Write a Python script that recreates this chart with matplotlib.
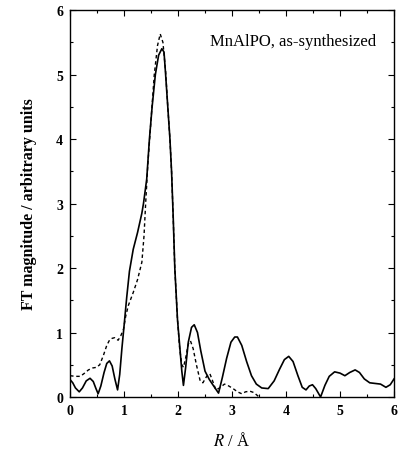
import matplotlib
matplotlib.use("Agg")
import matplotlib.pyplot as plt
from matplotlib.ticker import MultipleLocator

plt.rcParams['font.family'] = ['Liberation Serif', 'DejaVu Serif']
plt.rcParams['mathtext.fontset'] = 'stix'

# solid curve
r_solid = [0.0, 0.05, 0.10, 0.17, 0.23, 0.30, 0.37, 0.43, 0.48, 0.52, 0.57, 0.63,
           0.68, 0.73, 0.78, 0.83, 0.88, 0.92, 0.96, 1.00, 1.05, 1.10, 1.17, 1.25,
           1.33, 1.36, 1.42, 1.47, 1.52, 1.58, 1.64, 1.70, 1.74, 1.77, 1.81, 1.85,
           1.88, 1.91, 1.94, 1.99, 2.04, 2.07, 2.10, 2.14, 2.19, 2.25, 2.30, 2.36,
           2.42, 2.50, 2.58, 2.66, 2.75, 2.82, 2.90, 2.98, 3.05, 3.10, 3.18, 3.27,
           3.36, 3.45, 3.55, 3.67, 3.78, 3.88, 3.97, 4.05, 4.13, 4.22, 4.30, 4.37,
           4.43, 4.49, 4.55, 4.64, 4.72, 4.80, 4.90, 5.00, 5.09, 5.18, 5.28, 5.36,
           5.45, 5.55, 5.65, 5.75, 5.85, 5.93, 6.00]
ft_solid = [0.27, 0.22, 0.14, 0.08, 0.14, 0.25, 0.29, 0.24, 0.13, 0.05, 0.17, 0.38,
            0.52, 0.56, 0.48, 0.28, 0.11, 0.35, 0.75, 1.10, 1.55, 1.95, 2.29, 2.55,
            2.85, 3.00, 3.38, 4.00, 4.50, 5.00, 5.30, 5.40, 5.35, 5.00, 4.50, 4.00,
            3.50, 2.80, 2.00, 1.20, 0.70, 0.40, 0.18, 0.45, 0.85, 1.08, 1.12, 1.00,
            0.72, 0.40, 0.27, 0.17, 0.06, 0.30, 0.60, 0.85, 0.93, 0.93, 0.80, 0.55,
            0.33, 0.20, 0.14, 0.13, 0.25, 0.43, 0.58, 0.63, 0.55, 0.33, 0.15, 0.11,
            0.17, 0.19, 0.13, 0.00, 0.18, 0.32, 0.39, 0.37, 0.33, 0.38, 0.42, 0.38,
            0.28, 0.22, 0.21, 0.20, 0.15, 0.19, 0.28]

# dashed curve
r_dash = [0.0, 0.10, 0.19, 0.27, 0.34, 0.42, 0.49, 0.55, 0.62, 0.68, 0.73, 0.78,
          0.83, 0.89, 0.94, 0.99, 1.03, 1.08, 1.17, 1.25, 1.33, 1.37, 1.40, 1.44,
          1.50, 1.56, 1.62, 1.67, 1.72, 1.77, 1.81, 1.85, 1.88, 1.91, 1.94, 1.99,
          2.03, 2.07, 2.10, 2.14, 2.19, 2.23, 2.28, 2.34, 2.41, 2.46, 2.53, 2.59,
          2.64, 2.70, 2.77, 2.86, 2.92, 3.02, 3.10, 3.18, 3.25, 3.33, 3.40, 3.46, 3.50]
ft_dash = [0.33, 0.32, 0.32, 0.37, 0.42, 0.45, 0.46, 0.50, 0.65, 0.80, 0.88, 0.91,
           0.92, 0.88, 0.95, 1.05, 1.25, 1.42, 1.62, 1.82, 2.09, 2.50, 3.00, 3.60,
           4.30, 5.00, 5.45, 5.63, 5.50, 5.05, 4.50, 4.00, 3.50, 2.80, 2.00, 1.20,
           0.75, 0.50, 0.46, 0.60, 0.82, 0.87, 0.75, 0.50, 0.25, 0.22, 0.32, 0.36,
           0.25, 0.11, 0.14, 0.20, 0.18, 0.13, 0.08, 0.05, 0.08, 0.09, 0.07, 0.03, 0.0]

fig = plt.figure(figsize=(3.98, 4.52), dpi=100)
ax = fig.add_axes([0.176, 0.1195, 0.814, 0.856])

ax.plot(r_solid, ft_solid, color='black', lw=1.2)
ax.plot(r_dash, ft_dash, color='black', lw=1.0, linestyle=(0, (2.5, 2)))

ax.set_xlim(0, 6)
ax.set_ylim(0, 6)
ax.xaxis.set_major_locator(MultipleLocator(1))
ax.xaxis.set_minor_locator(MultipleLocator(0.5))
ax.yaxis.set_major_locator(MultipleLocator(1))
ax.yaxis.set_minor_locator(MultipleLocator(0.5))
ax.tick_params(which='both', direction='in', top=True, right=True, width=0.8)
ax.tick_params(which='major', length=4, labelsize=10, pad=5)
ax.tick_params(which='minor', length=2)
for lab in ax.get_xticklabels() + ax.get_yticklabels():
    lab.set_fontweight('bold')
for sp in ax.spines.values():
    sp.set_linewidth(1.0)

ax.set_xlabel(r'$\mathit{R}$ / Å', fontsize=12, labelpad=10)
ax.set_ylabel('FT magnitude / arbitrary units', fontsize=11.5, fontweight='bold', labelpad=14)

ax.text(2.6, 5.52, 'MnAlPO, as-synthesized', fontsize=12, va='center', ha='left')

fig.savefig('out.png', dpi=100)
